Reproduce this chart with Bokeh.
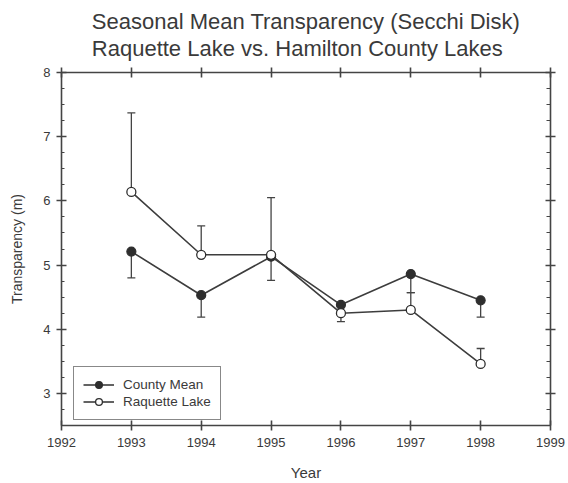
from bokeh.plotting import figure
from bokeh.models import (Range1d, LinearAxis, SingleIntervalTicker, FixedTicker,
                          Whisker, TeeHead, ColumnDataSource, Legend)
from bokeh.embed import file_html
from bokeh.resources import INLINE

# ---- data ----
years = [1993, 1994, 1995, 1996, 1997, 1998]
county_mean = [5.21, 4.53, 5.13, 4.38, 4.86, 4.45]
county_lower = [4.80, 4.19, 4.76, 4.12, 4.57, 4.19]
raquette = [6.14, 5.16, 5.16, 4.25, 4.30, 3.46]
raquette_upper = [7.37, 5.61, 6.05, 4.38, 4.57, 3.70]
x_ticks = [1992, 1993, 1994, 1995, 1996, 1997, 1998, 1999]
y_ticks = [3, 4, 5, 6, 7, 8]

FONT = "Liberation Sans"
TXT = "#3a3a3a"
AX = "#444444"

p = figure(width=568, height=483, output_backend="svg", toolbar_location=None,
           x_range=Range1d(1992, 1999), y_range=Range1d(2.5, 8),
           x_axis_location=None, y_axis_location=None,
           min_border_left=61, min_border_right=18, min_border_bottom=57,
           min_border_top=71)
p.outline_line_color = None
p.xgrid.visible = False
p.ygrid.visible = False

p.title.text = "Seasonal Mean Transparency (Secchi Disk)\nRaquette Lake vs. Hamilton County Lakes"
p.title.align = "center"
p.title.text_font = FONT
p.title.text_font_size = "22px"
p.title.text_font_style = "normal"
p.title.text_color = TXT
p.title.text_line_height = 1.05
p.title.standoff = 14

def style_axis(ax):
    ax.axis_line_color = AX
    ax.axis_line_width = 1.6
    ax.major_tick_line_color = AX
    ax.major_tick_line_width = 1.6
    ax.minor_tick_line_color = AX
    ax.minor_tick_line_width = 1.0
    ax.major_label_text_font = FONT
    ax.major_label_text_color = TXT
    ax.major_label_text_font_size = "13px"
    ax.axis_label_text_font = FONT
    ax.axis_label_text_font_style = "normal"
    ax.axis_label_text_color = TXT

# bottom
xb = LinearAxis(ticker=FixedTicker(ticks=x_ticks), axis_label="Year")
style_axis(xb)
xb.major_tick_in = 5
xb.major_tick_out = 5
xb.minor_tick_in = 0
xb.minor_tick_out = 0
xb.major_label_standoff = 7
xb.axis_label_standoff = 14
xb.axis_label_text_font_size = "15px"
p.add_layout(xb, "below")

# top
xt = LinearAxis(ticker=FixedTicker(ticks=x_ticks))
style_axis(xt)
xt.major_label_overrides = {t: "" for t in x_ticks}
xt.major_label_standoff = 0
xt.major_tick_in = 5
xt.major_tick_out = 5
xt.minor_tick_in = 0
xt.minor_tick_out = 0
p.add_layout(xt, "above")

# left
yl = LinearAxis(ticker=SingleIntervalTicker(interval=1, num_minor_ticks=4),
                axis_label="Transparency (m)")
style_axis(yl)
yl.major_tick_in = 5
yl.major_tick_out = 5
yl.minor_tick_in = 3
yl.minor_tick_out = 0
yl.major_label_standoff = 6
yl.axis_label_standoff = 15
yl.axis_label_text_font_size = "14px"
p.add_layout(yl, "left")

# right
yr = LinearAxis(ticker=SingleIntervalTicker(interval=1, num_minor_ticks=4))
style_axis(yr)
yr.major_label_overrides = {t: "" for t in y_ticks}
yr.major_label_standoff = 0
yr.major_tick_in = 5
yr.major_tick_out = 5
yr.minor_tick_in = 4
yr.minor_tick_out = 0
p.add_layout(yr, "right")

src = ColumnDataSource(dict(year=years, cm=county_mean, cl=county_lower,
                            rq=raquette, ru=raquette_upper))

w1 = Whisker(source=src, base="year", lower="cl", upper="cm",
             line_color=AX, line_width=1.3,
             lower_head=TeeHead(size=8, line_color=AX, line_width=1.3), upper_head=None)
w2 = Whisker(source=src, base="year", lower="rq", upper="ru",
             line_color=AX, line_width=1.3,
             upper_head=TeeHead(size=8, line_color=AX, line_width=1.3), lower_head=None)
p.add_layout(w1)
p.add_layout(w2)

l1 = p.line("year", "cm", source=src, line_color="#3d3d3d", line_width=1.6)
s1 = p.scatter("year", "cm", source=src, size=9, fill_color="#2e2e2e",
               line_color="#2e2e2e", line_width=1.2)
l2 = p.line("year", "rq", source=src, line_color="#3d3d3d", line_width=1.6)
s2 = p.scatter("year", "rq", source=src, size=9, fill_color="white",
               line_color="#2e2e2e", line_width=1.3)

legend = Legend(items=[("County Mean", [l1, s1]), ("Raquette Lake", [l2, s2])],
                location=(12, 5))
legend.border_line_color = "#111111"
legend.border_line_width = 1.6
legend.background_fill_color = "white"
legend.background_fill_alpha = 1.0
legend.label_text_font = FONT
legend.label_text_font_size = "13.5px"
legend.label_text_color = TXT
legend.glyph_width = 31
legend.glyph_height = 17
legend.label_height = 17
legend.label_standoff = 9
legend.spacing = 0
legend.padding = 9
legend.margin = 0
p.add_layout(legend, "center")

open("out.html", "w").write(file_html(p, INLINE))
